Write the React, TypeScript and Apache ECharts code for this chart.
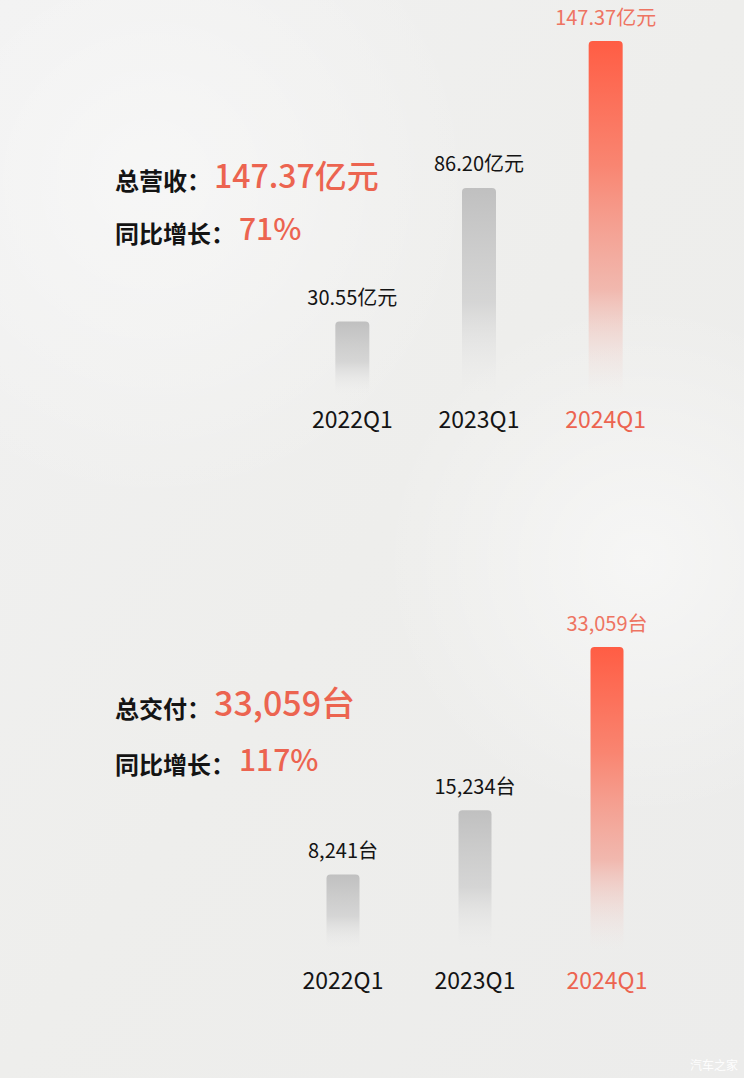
import React, { useEffect, useRef } from "react";
import * as echarts from "echarts";

const quarters = ["2022Q1", "2023Q1", "2024Q1"];
const revenue = [30.55, 86.2, 147.37];
const revenueLabels = ["30.55亿元", "86.20亿元", "147.37亿元"];
const deliveries = [8241, 15234, 33059];
const deliveryLabels = ["8,241台", "15,234台", "33,059台"];
const revenueHeadline = ["总营收：", "147.37亿元"];
const revenueGrowth = ["同比增长：", "71%"];
const deliveryHeadline = ["总交付：", "33,059台"];
const deliveryGrowth = ["同比增长：", "117%"];
const watermark = "汽车之家";

const FONT = "'Noto Sans CJK SC', 'Noto Sans', sans-serif";
const ORANGE = "#ec6450";
const LABEL_ORANGE = "#ee7462";
const DARK = "#141414";

const grayGrad = () =>
  new echarts.graphic.LinearGradient(0, 0, 0, 1, [
    { offset: 0, color: "rgba(192,192,192,1)" },
    { offset: 0.55, color: "rgba(205,205,205,0.75)" },
    { offset: 1, color: "rgba(235,235,235,0)" },
  ]);
const redGrad = () =>
  new echarts.graphic.LinearGradient(0, 0, 0, 1, [
    { offset: 0, color: "#ff5d44" },
    { offset: 0.35, color: "#f98571" },
    { offset: 0.7, color: "rgba(242,170,158,0.8)" },
    { offset: 1, color: "rgba(240,225,222,0)" },
  ]);

function barData(values: number[], labels: string[]) {
  return values.map((v, i) => {
    const last = i === values.length - 1;
    return {
      value: v,
      itemStyle: { color: last ? redGrad() : grayGrad(), borderRadius: [4, 4, 0, 0] },
      label: {
        show: true,
        position: "top",
        distance: 15,
        formatter: labels[i],
        color: last ? LABEL_ORANGE : DARK,
        fontSize: 20,
        fontFamily: FONT,
      },
    };
  });
}

function catData() {
  return quarters.map((q, i) =>
    i === quarters.length - 1 ? { value: q, textStyle: { color: ORANGE } } : q
  );
}

function headline(pair: string[], y: number, big: number, valueX: number) {
  return [
    {
      type: "text",
      left: 115,
      top: y - 14,
      style: { text: pair[0], font: `bold 24px ${FONT}`, fill: DARK },
    },
    {
      type: "text",
      left: valueX,
      top: y - big * 0.72,
      style: { text: pair[1], font: `500 ${big}px ${FONT}`, fill: ORANGE },
    },
  ];
}

export default function App() {
  const ref = useRef<HTMLDivElement>(null);
  useEffect(() => {
    document.body.style.margin = "0";
    const chart = echarts.init(ref.current!, null, { renderer: "svg" });
    const xAxisCommon = {
      type: "category",
      axisLine: { show: false },
      axisTick: { show: false },
      axisLabel: { fontSize: 23, color: DARK, fontFamily: FONT },
    };
    const yAxisCommon = {
      type: "value",
      min: 0,
      max: "dataMax",
      show: false,
      splitLine: { show: false },
    };
    chart.setOption({
      animation: false,
      backgroundColor: new echarts.graphic.LinearGradient(0, 0, 1, 1, [
        { offset: 0, color: "#f1f1f1" },
        { offset: 0.5, color: "#eeeeec" },
        { offset: 1, color: "#ececeb" },
      ]),
      grid: [
        { left: 289, right: 75, top: 41, bottom: 683 },
        { left: 277, right: 71, top: 647, bottom: 128 },
      ],
      xAxis: [
        { ...xAxisCommon, gridIndex: 0, data: catData(), axisLabel: { ...xAxisCommon.axisLabel, margin: 11 } },
        { ...xAxisCommon, gridIndex: 1, data: catData(), axisLabel: { ...xAxisCommon.axisLabel, margin: 17 } },
      ],
      yAxis: [
        { ...yAxisCommon, gridIndex: 0 },
        { ...yAxisCommon, gridIndex: 1 },
      ],
      series: [
        { type: "bar", xAxisIndex: 0, yAxisIndex: 0, barWidth: 34, data: barData(revenue, revenueLabels) },
        { type: "bar", xAxisIndex: 1, yAxisIndex: 1, barWidth: 33, data: barData(deliveries, deliveryLabels) },
      ],
      graphic: [
        {
          type: "circle",
          z: -10,
          shape: { cx: 150, cy: 180, r: 330 },
          style: {
            fill: new echarts.graphic.RadialGradient(0.5, 0.5, 0.5, [
              { offset: 0, color: "rgba(255,255,255,0.45)" },
              { offset: 1, color: "rgba(255,255,255,0)" },
            ]),
          },
        },
        {
          type: "circle",
          z: -10,
          shape: { cx: 640, cy: 560, r: 260 },
          style: {
            fill: new echarts.graphic.RadialGradient(0.5, 0.5, 0.5, [
              { offset: 0, color: "rgba(255,255,255,0.5)" },
              { offset: 1, color: "rgba(255,255,255,0)" },
            ]),
          },
        },
        {
          type: "line",
          shape: { x1: 258, y1: 522, x2: 482, y2: 522 },
          style: {
            lineWidth: 1.5,
            stroke: new echarts.graphic.LinearGradient(0, 0, 1, 0, [
              { offset: 0, color: "rgba(240,150,130,0)" },
              { offset: 0.3, color: "rgba(240,140,120,0.8)" },
              { offset: 0.7, color: "rgba(240,140,120,0.8)" },
              { offset: 1, color: "rgba(240,150,130,0)" },
            ]),
          },
        },
        ...headline(revenueHeadline, 181, 32, 214),
        ...headline(revenueGrowth, 234, 30, 239),
        ...headline(deliveryHeadline, 709, 34, 214),
        ...headline(deliveryGrowth, 765, 30, 239),
        {
          type: "text",
          right: 6,
          top: 1058,
          style: { text: watermark, font: `12px ${FONT}`, fill: "rgba(255,255,255,0.95)" },
        },
      ],
    });
    return () => chart.dispose();
  }, []);
  return <div ref={ref} style={{ width: 744, height: 1078, position: "absolute", left: 0, top: 0 }} />;
}
